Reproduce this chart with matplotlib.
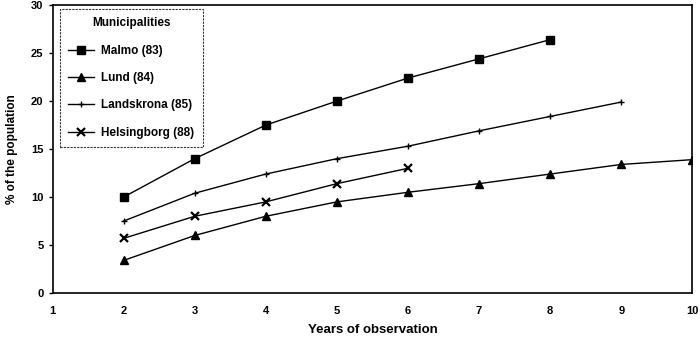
import matplotlib.pyplot as plt

years_malmo = [2, 3, 4, 5, 6, 7, 8]
malmo = [10.0, 14.0, 17.5, 20.0, 22.4, 24.4, 26.4]

years_lund = [2, 3, 4, 5, 6, 7, 8, 9, 10]
lund = [3.4, 6.0, 8.0, 9.5, 10.5, 11.4, 12.4, 13.4, 13.9]

years_landskrona = [2, 3, 4, 5, 6, 7, 8, 9]
landskrona = [7.5, 10.4, 12.4, 14.0, 15.3, 16.9, 18.4, 19.9]

years_helsingborg = [2, 3, 4, 5, 6]
helsingborg = [5.7, 8.0, 9.5, 11.4, 13.0]

x_ticks = list(range(1, 11))
y_ticks = [0, 5, 10, 15, 20, 25, 30]

plt.rcParams['font.family'] = ['Liberation Sans', 'DejaVu Sans']
plt.rcParams['font.weight'] = 'bold'

fig = plt.figure(figsize=(7, 3.4), dpi=100)
ax = fig.add_axes([0.075, 0.138, 0.914, 0.847])

ax.plot(years_malmo, malmo, color='black', lw=1, marker='s', ms=6, label='Malmo (83)')
ax.plot(years_lund, lund, color='black', lw=1, marker='^', ms=6, label='Lund (84)')
ax.plot(years_landskrona, landskrona, color='black', lw=1, marker='+', ms=4, mew=1, label='Landskrona (85)')
ax.plot(years_helsingborg, helsingborg, color='black', lw=1, marker='x', ms=6, mew=1.6, label='Helsingborg (88)')

ax.set_xlim(1, 10)
ax.set_ylim(0, 30)
ax.set_xticks(x_ticks)
ax.set_yticks(y_ticks)
ax.tick_params(axis='both', labelsize=8, length=3, width=1)
ax.tick_params(axis='x', length=0, pad=9)
for s in ax.spines.values():
    s.set_linewidth(1.2)

ax.set_xlabel('Years of observation', fontsize=9.5, fontweight='bold', labelpad=6)
ax.set_ylabel('% of the population', fontsize=8.5, fontweight='bold', labelpad=9)

leg = ax.legend(title='Municipalities', loc='upper left', bbox_to_anchor=(0.01, 0.99),
                fontsize=8.5, title_fontproperties={'weight': 'bold', 'size': 8.5},
                frameon=True, fancybox=False, edgecolor='black', labelspacing=1.3,
                handlelength=2.2, handletextpad=0.6, borderpad=0.7, borderaxespad=0.1)
leg.get_frame().set_linewidth(0.8)
leg.get_frame().set_linestyle((0, (2, 1)))

fig.savefig('out.png', dpi=100)
